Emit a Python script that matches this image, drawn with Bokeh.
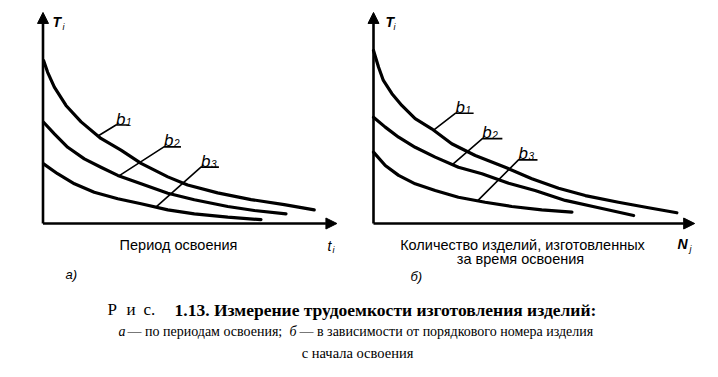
import numpy as np
from bokeh.plotting import figure
from bokeh.models import Range1d, Arrow, NormalHead, Label
from bokeh.embed import file_html
from bokeh.resources import INLINE

# ---- data (arbitrary units, axes 0..100) ----
# panel a) : labour intensity T_i vs. development period t_i
a_b1_x = [0.2, 1.6, 3.9, 7.9, 13.1, 19.9, 26.8, 33.7, 42.9, 49.7, 60.0, 71.5, 82.9, 93.2]
a_b1_y = [77.6, 72.0, 64.9, 56.2, 48.4, 40.5, 34.9, 28.6, 22.2, 18.3, 14.6, 11.4, 9.0, 6.5]
a_b2_x = [0.2, 3.9, 8.5, 14.2, 19.9, 25.7, 33.7, 42.9, 52.0, 63.5, 72.6, 83.5]
a_b2_y = [48.2, 42.7, 36.3, 30.8, 26.8, 22.9, 18.9, 14.4, 11.3, 8.1, 6.2, 4.6]
a_b3_x = [0.2, 5.0, 10.8, 17.6, 25.7, 33.7, 42.9, 52.0, 63.5, 74.9]
a_b3_y = [28.4, 23.7, 18.9, 14.9, 11.8, 9.4, 6.5, 4.6, 3.0, 1.8]

# panel б) : labour intensity T_i vs. number of items N_j
b_b1_x = [0, 1.6, 3.1, 5.8, 8.9, 13.1, 18.3, 24.6, 32.0, 41.4, 49.8, 58.2, 66.6, 77.0, 86.5, 95.4]
b_b1_y = [82.4, 74.4, 68.1, 61.8, 56.2, 49.9, 45.1, 38.0, 32.4, 26.8, 21.3, 16.8, 13.3, 10.1, 7.5, 5.1]
b_b2_x = [0, 3.7, 7.9, 13.1, 19.4, 26.7, 34.1, 42.5, 50.8, 60.3, 70.8, 81.8]
b_b2_y = [50.6, 45.9, 41.1, 36.3, 31.6, 26.8, 23.7, 19.2, 15.7, 11.0, 7.5, 3.8]
b_b3_x = [0, 3.7, 7.9, 13.1, 19.4, 26.7, 35.1, 43.5, 52.9, 62.4]
b_b3_y = [34.0, 27.6, 22.9, 18.9, 15.7, 12.5, 10.1, 8.1, 6.5, 5.4]

series_names = ["1", "2", "3"]

W, H = 718, 377

p = figure(width=W, height=H, output_backend="svg", toolbar_location=None,
           x_range=Range1d(0, W), y_range=Range1d(H, 0),
           x_axis_type=None, y_axis_type=None, min_border=0)
p.grid.visible = False
p.outline_line_color = None
p.background_fill_color = "white"
p.border_fill_color = "white"

# panel placement (pixel origin and pixel per unit)
panels = {
    "a": dict(ox=42.5, oy=223.0, sx=2.91, sy=2.1),
    "b": dict(ox=373.0, oy=223.0, sx=3.18, sy=2.1),
}
for k, g in panels.items():
    p.extra_x_ranges[k + "x"] = Range1d(-g["ox"] / g["sx"], (W - g["ox"]) / g["sx"])
    p.extra_y_ranges[k + "y"] = Range1d((g["oy"] - H) / g["sy"], g["oy"] / g["sy"])

def to_px(k, x, y):
    g = panels[k]
    return g["ox"] + x * g["sx"], g["oy"] - y * g["sy"]

SANS = "Liberation Sans"
SERIF = "Liberation Serif"

def lab(x, y, t, size, font=SANS, style="normal", align="left", base="alphabetic"):
    p.add_layout(Label(x=x, y=y, text=t, text_font=font, text_font_size=f"{size}px",
                       text_font_style=style, text_align=align, text_baseline=base,
                       text_color="black"))

curves = {
    "a": [(a_b1_x, a_b1_y), (a_b2_x, a_b2_y), (a_b3_x, a_b3_y)],
    "b": [(b_b1_x, b_b1_y), (b_b2_x, b_b2_y), (b_b3_x, b_b3_y)],
}
# leader anchors (data x on curve) and pixel offsets of the leader corner, shelf length
leaders = {
    "a": [(18.9, 18, -11, 13), (26.1, 45, -29, 17), (38.8, 45, -40, 18)],
    "b": [(18.9, 22, -17, 18), (24.8, 30, -26, 20), (32.7, 41, -41, 19)],
}

for k in ["a", "b"]:
    xr, yr = k + "x", k + "y"
    # axes with arrows
    for (xe, ye) in [(0, 100.5), (101, 0)]:
        p.add_layout(Arrow(end=NormalHead(size=11, fill_color="black", line_color="black", line_width=1),
                           x_start=0, y_start=0, x_end=xe, y_end=ye, line_width=2.6,
                           line_color="black", x_range_name=xr, y_range_name=yr))
    for (cx, cy) in curves[k]:
        p.line(cx, cy, line_width=3.2, line_color="black", line_join="round",
               line_cap="round", x_range_name=xr, y_range_name=yr)
    for (name, (cx, cy), (ax, dx, dy, shelf)) in zip(series_names, curves[k], leaders[k]):
        ay = float(np.interp(ax, cx, cy))
        px0, py0 = to_px(k, ax, ay)
        cxp, cyp = px0 + dx, py0 + dy
        p.line([px0, cxp, cxp + shelf], [py0, cyp, cyp], line_width=1.6, line_color="black")
        lab(cxp, cyp - 6, "b", 17, style="italic")
        lab(cxp + 10, cyp - 3.5, name, 10, style="italic")

# axis titles
lab(52, 21, "T", 14, style="bold italic")
lab(62, 26, "i", 9, style="italic")
lab(327, 245, "t", 14, style="italic")
lab(332, 249, "i", 9, style="italic")
lab(385, 21, "T", 14, style="bold italic")
lab(393, 26, "i", 9, style="italic")
lab(677, 243, "N", 14, style="bold italic")
lab(689, 248, "j", 9, style="italic")

lab(178, 244, "Период освоения", 14.5, align="center")
lab(522, 244, "Количество изделий, изготовленных", 14.5, align="center")
lab(520, 258, "за время освоения", 14.5, align="center")
lab(65, 274, "а)", 13, style="italic")
lab(410, 276, "б)", 13, style="italic")

# caption
lab(107, 309, "Р", 17, font=SERIF)
lab(126, 309, "и", 17, font=SERIF)
lab(143, 309, "с.", 17, font=SERIF)
lab(174, 309, "1.13. Измерение трудоемкости изготовления изделий:", 17.5, font=SERIF,
    style="bold")
lab(118, 331, "а", 14, font=SERIF, style="italic")
lab(127, 331, "— по периодам освоения;", 14, font=SERIF)
lab(289, 331, "б", 14, font=SERIF, style="italic")
lab(299, 331, "— в зависимости от порядкового номера изделия", 14, font=SERIF)
lab(357, 352, "с начала освоения", 14.5, font=SERIF, align="center")

open("out.html", "w").write(file_html(p, INLINE))
